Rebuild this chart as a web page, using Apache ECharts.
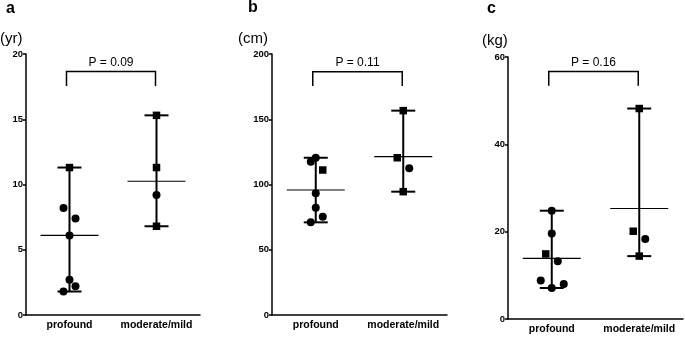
<!DOCTYPE html>
<html>
<head>
<meta charset="utf-8">
<script src="https://cdn.jsdelivr.net/npm/echarts@6/dist/echarts.min.js"></script>
<style>html,body{margin:0;padding:0;background:#fff}#c{width:685px;height:337px}</style>
</head>
<body>
<div id="c"></div>
<script>
// ---- data ----
const categories = ['profound', 'moderate/mild'];

// panel a: age (yr)
const ageProfoundCircles = [8.2, 7.4, 6.1, 2.7, 2.2, 1.8];
const ageProfoundSquares = [11.3];
const ageModerateCircles = [9.2];
const ageModerateSquares = [15.3, 11.3, 6.8];
const ageCenter = [6.1, 10.25];
const ageBracket = [17.55, 18.65];
const ageP = 'P = 0.09';
const ageTicks = [0, 20, 5];

// panel b: height (cm)
const heightProfoundCircles = [120.5, 117.5, 93.3, 82.2, 75.3, 71.0];
const heightProfoundSquares = [111.1];
const heightModerateCircles = [112.4];
const heightModerateSquares = [156.6, 120.5, 94.5];
const heightCenter = [95.8, 121.3];
const heightBracket = [175.5, 186.4];
const heightP = 'P = 0.11';
const heightTicks = [0, 200, 50];

// panel c: weight (kg)
const weightProfoundCircles = [24.8, 19.6, 13.2, 8.8, 8.0, 7.1];
const weightProfoundSquares = [14.9];
const weightModerateCircles = [18.3];
const weightModerateSquares = [48.2, 20.1, 14.4];
const weightCenter = [13.9, 25.3];
const weightBracket = [53.4, 56.7];
const weightP = 'P = 0.16';
const weightTicks = [0, 60, 20];

// ---- layout: horizontal jitter of points (pixels) ----
const jitter = {
  ageProfoundCircles: [-6, 6, 0, 0, 6, -6], ageProfoundSquares: [0],
  ageModerateCircles: [0], ageModerateSquares: [0, 0, 0],
  heightProfoundCircles: [0, -5, 0, 0, 7, -5], heightProfoundSquares: [7],
  heightModerateCircles: [6], heightModerateSquares: [0, -6, 0],
  weightProfoundCircles: [0, 0, 6, -11, 12, 0], weightProfoundSquares: [-6],
  weightModerateCircles: [6], weightModerateSquares: [0, -6, 0]
};

const FONT = '"Liberation Sans", Arial, Helvetica, sans-serif';

const panels = [
  {pc: ageProfoundCircles, ps: ageProfoundSquares, mc: ageModerateCircles, ms: ageModerateSquares,
   center: ageCenter, bracket: ageBracket, p: ageP, ticks: ageTicks,
   j: ['ageProfoundCircles', 'ageProfoundSquares', 'ageModerateCircles', 'ageModerateSquares']},
  {pc: heightProfoundCircles, ps: heightProfoundSquares, mc: heightModerateCircles, ms: heightModerateSquares,
   center: heightCenter, bracket: heightBracket, p: heightP, ticks: heightTicks,
   j: ['heightProfoundCircles', 'heightProfoundSquares', 'heightModerateCircles', 'heightModerateSquares']},
  {pc: weightProfoundCircles, ps: weightProfoundSquares, mc: weightModerateCircles, ms: weightModerateSquares,
   center: weightCenter, bracket: weightBracket, p: weightP, ticks: weightTicks,
   j: ['weightProfoundCircles', 'weightProfoundSquares', 'weightModerateCircles', 'weightModerateSquares']}
];

const grids = [
  {left: 26, top: 54, width: 174, height: 261},
  {left: 272, top: 54, width: 175, height: 261},
  {left: 508, top: 57, width: 175, height: 262}
];

function pts(cat, values, offs) {
  return values.map((v, i) => ({value: [cat, v], symbolOffset: [offs[i] || 0, 0]}));
}

function errorBarRender(params, api) {
  const x = api.value(0), lo = api.value(1), hi = api.value(2), c = api.value(3);
  const a = api.coord([x, lo]), b = api.coord([x, hi]), m = api.coord([x, c]);
  const cap = 12, half = 29;
  const st = {stroke: '#000', lineWidth: 2};
  return {type: 'group', children: [
    {type: 'line', shape: {x1: a[0], y1: a[1], x2: b[0], y2: b[1]}, style: st},
    {type: 'line', shape: {x1: a[0] - cap, y1: a[1], x2: a[0] + cap, y2: a[1]}, style: st},
    {type: 'line', shape: {x1: b[0] - cap, y1: b[1], x2: b[0] + cap, y2: b[1]}, style: st},
    {type: 'line', shape: {x1: m[0] - half, y1: m[1], x2: m[0] + half, y2: m[1]}, style: {stroke: '#000', lineWidth: 1.2}}
  ]};
}

function bracketRender(label) {
  return function (params, api) {
    if (params.dataIndex !== 0) return;
    const leg = api.value(1), top = api.value(2);
    const l0 = api.coord([0, leg]), l1 = api.coord([0, top]);
    const r0 = api.coord([1, leg]), r1 = api.coord([1, top]);
    const xl = l0[0] - 3, xr = r0[0] - 1;
    return {type: 'group', children: [
      {type: 'polyline', shape: {points: [[xl, l0[1]], [xl, l1[1]], [xr, r1[1]], [xr, r0[1]]]},
       style: {stroke: '#000', lineWidth: 1.5, fill: null}},
      {type: 'text', style: {text: label, x: (xl + xr) / 2, y: l1[1] - 9, textAlign: 'center', textVerticalAlign: 'middle',
        font: '12px ' + FONT, fill: '#000'}}
    ]};
  };
}

const xAxis = [], yAxis = [], series = [];
panels.forEach((p, i) => {
  xAxis.push({type: 'category', gridIndex: i, data: categories,
    axisLine: {lineStyle: {color: '#000', width: 1.5}},
    axisTick: {alignWithLabel: true, length: 3, lineStyle: {color: '#000', width: 1.5}},
    axisLabel: {interval: 0, color: '#000', fontWeight: 'bold', fontSize: 10.5, margin: 5, fontFamily: FONT},
    splitLine: {show: false}});
  yAxis.push({type: 'value', gridIndex: i, min: p.ticks[0], max: p.ticks[1], interval: p.ticks[2],
    axisLine: {show: true, lineStyle: {color: '#000', width: 1.5}},
    axisTick: {show: true, length: 3, lineStyle: {color: '#000', width: 1.5}},
    axisLabel: {color: '#000', fontWeight: 'bold', fontSize: 9.5, margin: 3, fontFamily: FONT},
    splitLine: {show: false}});
  const prof = p.pc.concat(p.ps), mod = p.mc.concat(p.ms);
  series.push({type: 'custom', xAxisIndex: i, yAxisIndex: i, renderItem: errorBarRender,
    encode: {x: 0, y: [1, 2, 3]}, silent: true,
    data: [[0, Math.min(...prof), Math.max(...prof), p.center[0]],
           [1, Math.min(...mod), Math.max(...mod), p.center[1]]]});
  series.push({type: 'custom', xAxisIndex: i, yAxisIndex: i, renderItem: bracketRender(p.p),
    encode: {x: 0, y: [1, 2]}, silent: true, clip: false,
    data: [[0, p.bracket[0], p.bracket[1]], [1, p.bracket[0], p.bracket[1]]]});
  series.push({type: 'scatter', xAxisIndex: i, yAxisIndex: i, symbol: 'circle', symbolSize: 8,
    itemStyle: {color: '#000', opacity: 1}, silent: true,
    data: pts(0, p.pc, jitter[p.j[0]]).concat(pts(1, p.mc, jitter[p.j[2]]))});
  series.push({type: 'scatter', xAxisIndex: i, yAxisIndex: i, symbol: 'rect', symbolSize: 7.5,
    itemStyle: {color: '#000', opacity: 1}, silent: true,
    data: pts(0, p.ps, jitter[p.j[1]]).concat(pts(1, p.ms, jitter[p.j[3]]))});
});

const letters = [['a', 6, 10], ['b', 248, 9], ['c', 487, 10]];
const units = [['(yr)', 0, 40], ['(cm)', 238, 40], ['(kg)', 482, 42]];
const graphic = [];
letters.forEach(l => graphic.push({type: 'text', left: l[1], top: l[2] - 9,
  style: {text: l[0], font: 'bold 16px ' + FONT, fill: '#000'}}));
units.forEach(u => graphic.push({type: 'text', left: u[1], top: u[2] - 9,
  style: {text: u[0], font: '15px ' + FONT, fill: '#000'}}));

const chart = echarts.init(document.getElementById('c'), null, {renderer: 'canvas'});
chart.setOption({animation: false, backgroundColor: '#fff', grid: grids, xAxis, yAxis, series, graphic});
</script>
</body>
</html>
